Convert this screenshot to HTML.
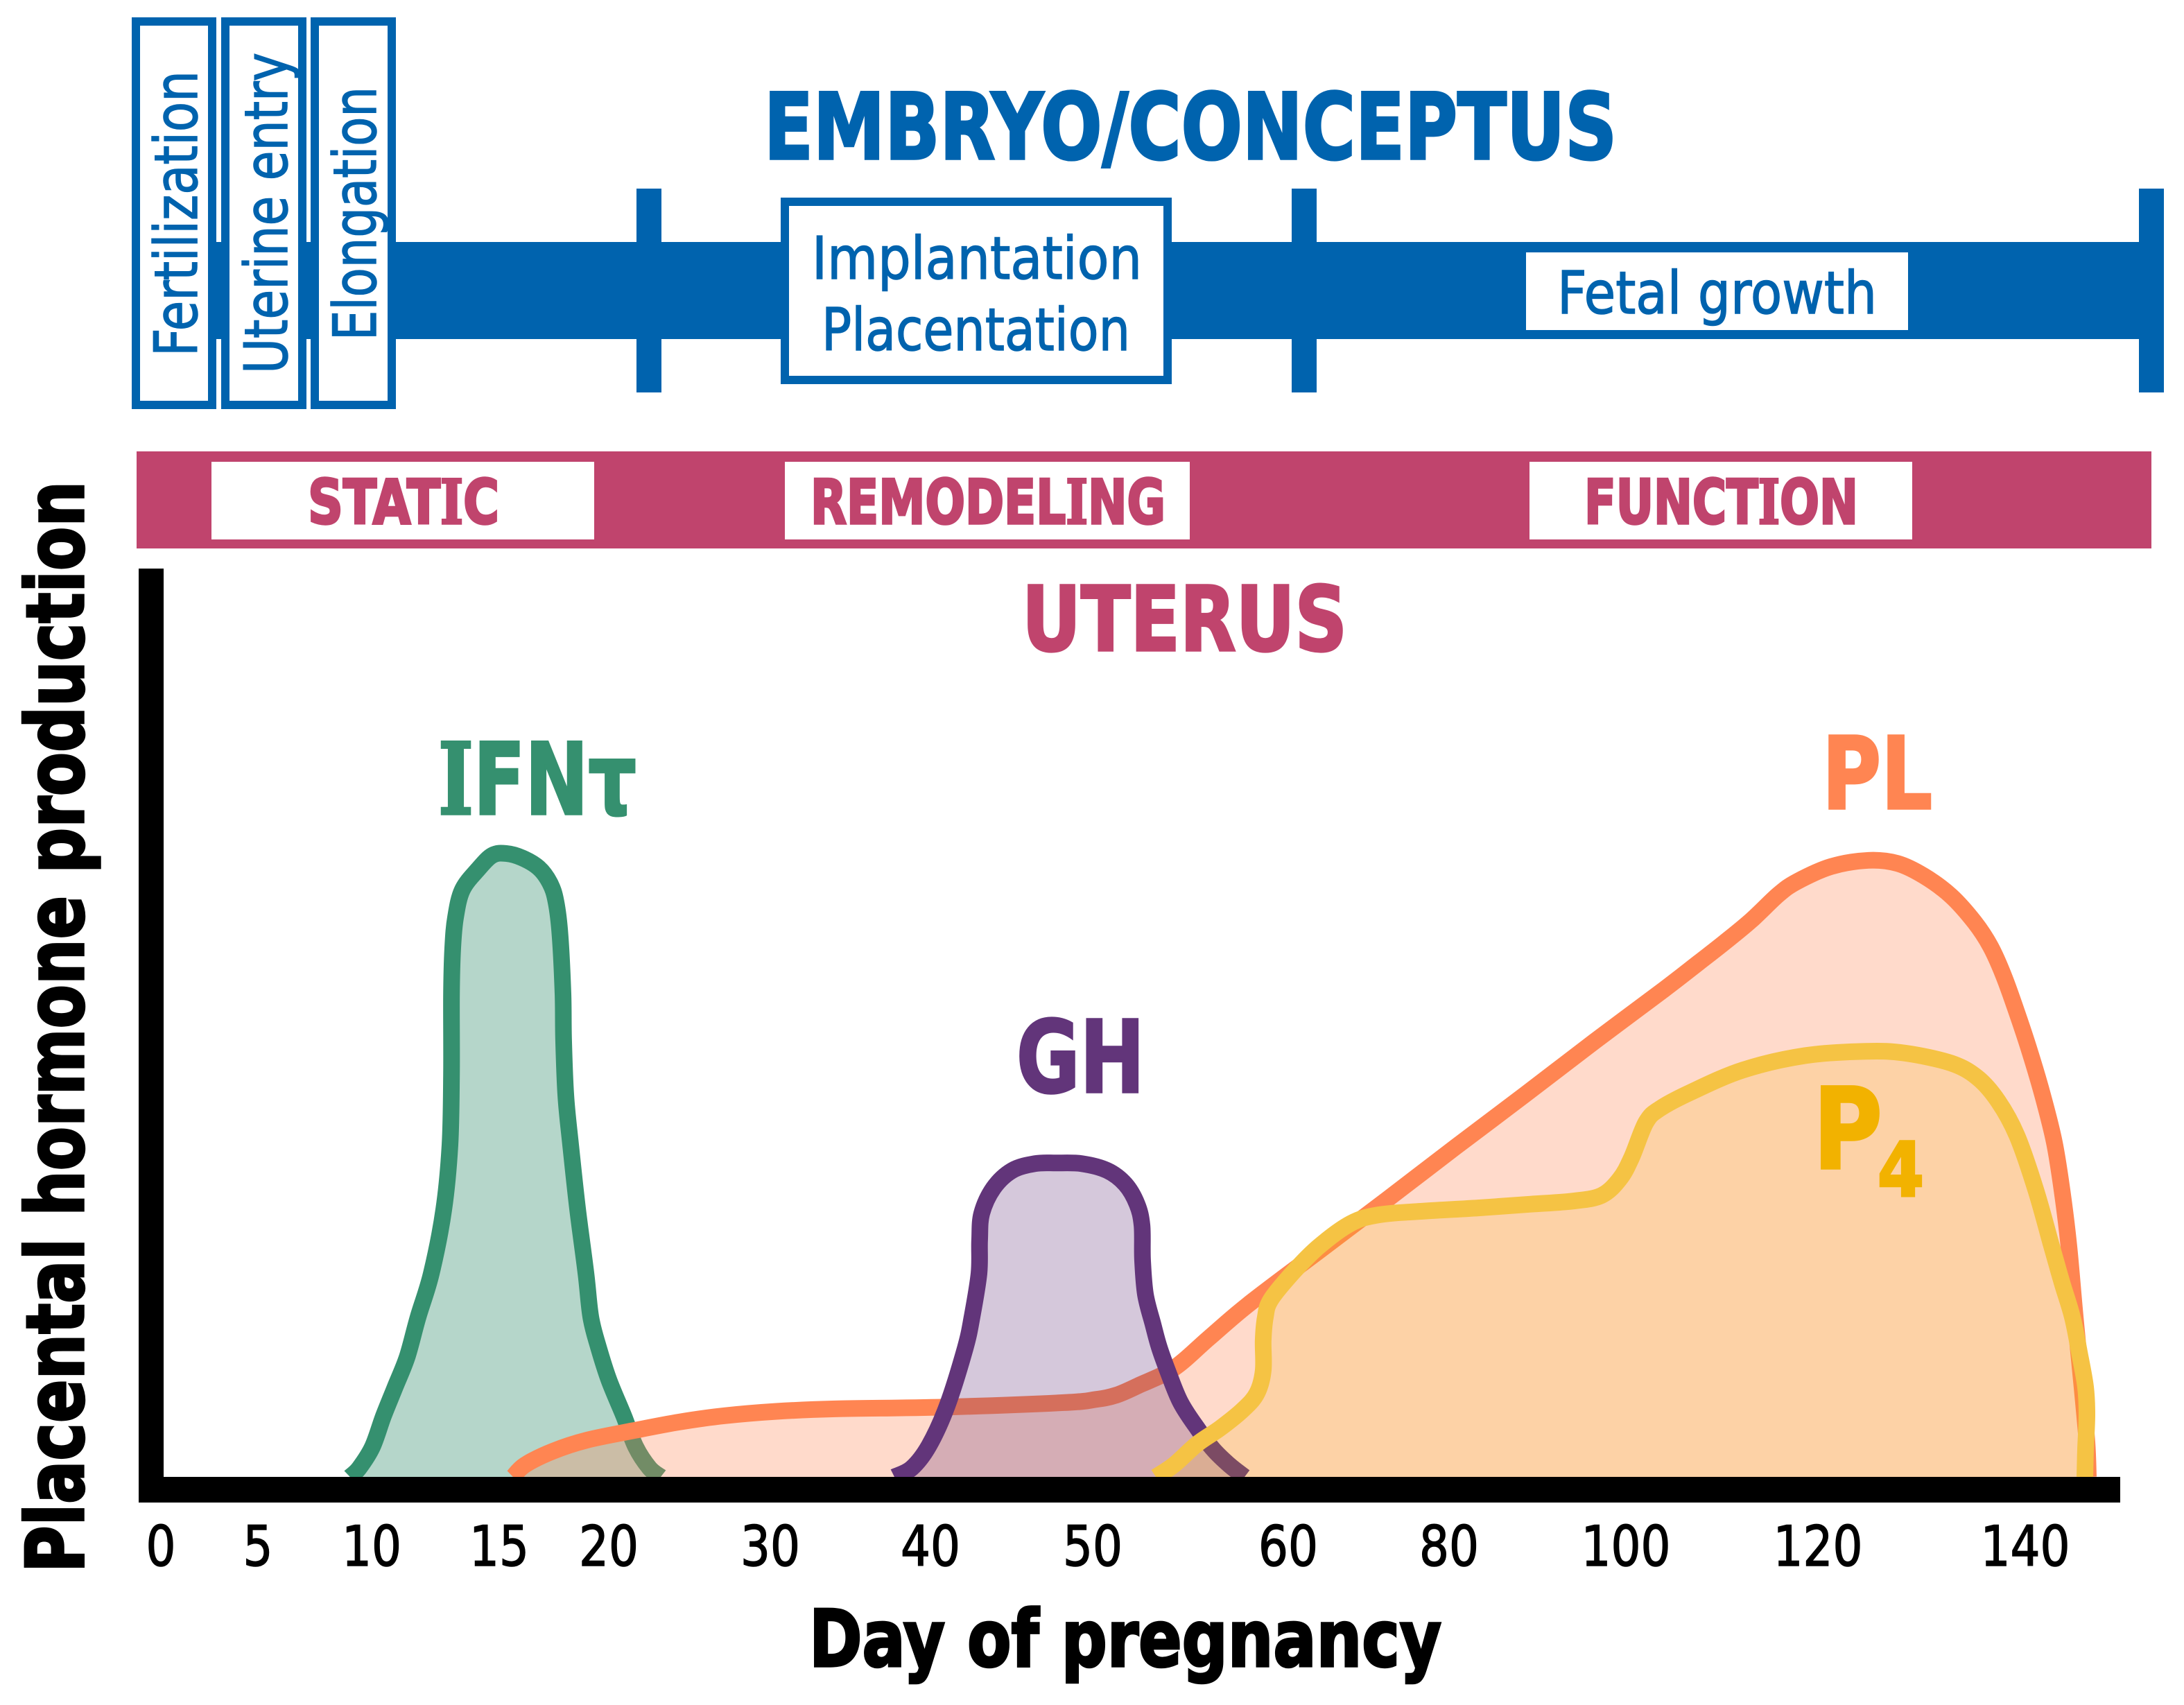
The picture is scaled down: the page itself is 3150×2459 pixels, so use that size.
<!DOCTYPE html>
<html lang="en">
<head>
<meta charset="utf-8">
<title>Placental hormone production during pregnancy</title>
<style>
html,body{margin:0;padding:0;background:#fff}
svg{display:block}
text{font-family:"DejaVu Sans","Liberation Sans",sans-serif;stroke-width:1.5}
text.b{font-weight:700;stroke-width:3.5}
tspan.s{font-family:"DejaVu Serif","Liberation Serif",serif}
</style>
</head>
<body>
<svg id="chart" xmlns="http://www.w3.org/2000/svg" width="3150" height="2459" viewBox="0 0 3150 2459">
<rect width="3150" height="2459" fill="#fff"/>

<g id="timeline">
<rect x="300" y="349" width="2821" height="140" fill="#0063ae"/>
<rect x="918" y="272" width="36" height="294" fill="#0063ae"/>
<rect x="1863" y="272" width="36" height="294" fill="#0063ae"/>
<rect x="3085" y="272" width="36" height="294" fill="#0063ae"/>
<rect x="196" y="31" width="110" height="553" fill="#fff" stroke="#0063ae" stroke-width="12"/>
<rect x="325" y="31" width="111" height="553" fill="#fff" stroke="#0063ae" stroke-width="12"/>
<rect x="454" y="31" width="111" height="553" fill="#fff" stroke="#0063ae" stroke-width="12"/>
<text transform="translate(284 514) rotate(-90)" font-size="86" fill="#0063ae" stroke="#0063ae" textLength="412" lengthAdjust="spacingAndGlyphs">Fertilization</text>
<text transform="translate(414 539) rotate(-90)" font-size="86" fill="#0063ae" stroke="#0063ae" textLength="463" lengthAdjust="spacingAndGlyphs">Uterine entry</text>
<text transform="translate(542 491) rotate(-90)" font-size="86" fill="#0063ae" stroke="#0063ae" textLength="366" lengthAdjust="spacingAndGlyphs">Elongation</text>
<rect x="1132" y="291" width="552" height="257" fill="#fff" stroke="#0063ae" stroke-width="12"/>
<text x="1171" y="402" font-size="85" fill="#0063ae" stroke="#0063ae" textLength="476" lengthAdjust="spacingAndGlyphs">Implantation</text>
<text x="1185" y="505" font-size="85" fill="#0063ae" stroke="#0063ae" textLength="445" lengthAdjust="spacingAndGlyphs">Placentation</text>
<rect x="2201" y="364" width="551" height="112" fill="#fff"/>
<text x="2246" y="452" font-size="85" fill="#0063ae" stroke="#0063ae" textLength="461" lengthAdjust="spacingAndGlyphs">Fetal growth</text>
<text class="b" x="1102" y="229" font-size="132" fill="#0063ae" stroke="#0063ae" textLength="1230" lengthAdjust="spacingAndGlyphs">EMBRYO/CONCEPTUS</text>
</g>

<g id="uterus-band">
<rect x="197" y="651" width="2906" height="140" fill="#c0446d"/>
<rect x="305" y="666" width="552" height="112" fill="#fff"/>
<rect x="1132" y="666" width="584" height="112" fill="#fff"/>
<rect x="2206" y="666" width="552" height="112" fill="#fff"/>
<text class="b" x="444" y="755" font-size="88" fill="#c0446d" stroke="#c0446d" textLength="276" lengthAdjust="spacingAndGlyphs">STAT<tspan class="s">I</tspan>C</text>
<text class="b" x="1169" y="755" font-size="88" fill="#c0446d" stroke="#c0446d" textLength="512" lengthAdjust="spacingAndGlyphs">REMODEL<tspan class="s">I</tspan>NG</text>
<text class="b" x="2285" y="755" font-size="88" fill="#c0446d" stroke="#c0446d" textLength="395" lengthAdjust="spacingAndGlyphs">FUNCT<tspan class="s">I</tspan>ON</text>
<text class="b" x="1474" y="938" font-size="129" fill="#c0446d" stroke="#c0446d" textLength="469" lengthAdjust="spacingAndGlyphs">UTERUS</text>
</g>

<g id="marks"></g>

<g id="axes">
<rect x="200" y="820" width="36" height="1347" fill="#000"/>
<rect x="200" y="2130" width="2858" height="37" fill="#000"/>
</g>
<g id="ticks"></g>

<text class="b" transform="translate(120 2268) rotate(-90)" font-size="115" fill="#000" stroke="#000" textLength="1574" lengthAdjust="spacingAndGlyphs">Placental hormone production</text>
<text class="b" x="1167" y="2403" font-size="113" fill="#000" stroke="#000" textLength="912" lengthAdjust="spacingAndGlyphs">Day of pregnancy</text>

<text class="b" x="632" y="1174" font-size="143" fill="#35906f" stroke="#35906f" textLength="286" lengthAdjust="spacingAndGlyphs"><tspan class="s">I</tspan>FNτ</text>
<text class="b" x="1466" y="1575" font-size="144" fill="#62357a" stroke="#62357a" textLength="185" lengthAdjust="spacingAndGlyphs">GH</text>
<text class="b" x="2628" y="1166" font-size="144" fill="#ff8552" stroke="#ff8552" textLength="159" lengthAdjust="spacingAndGlyphs">PL</text>
<text class="b" x="2615" y="1685" font-size="162" fill="#f2b200" stroke="#f2b200" textLength="100" lengthAdjust="spacingAndGlyphs">P</text>
<text class="b" x="2708" y="1725" font-size="108" fill="#f2b200" stroke="#f2b200" textLength="67" lengthAdjust="spacingAndGlyphs">4</text>
</svg>

<script>
const tickDays = [0, 5, 10, 15, 20, 30, 40, 50, 60, 80, 100, 120, 140];

const ifnDays = [9.05, 9.45, 10.03, 10.46, 10.92, 11.39, 11.82, 12.34, 12.83, 13.07, 13.13, 13.13, 13.18, 13.29, 13.56, 14.18, 14.73, 15.32, 16.04, 16.8, 17.31, 17.59, 17.78, 17.91, 17.94, 18.04, 18.26, 18.58, 18.96, 19.18, 19.53, 20, 20.94, 21.67, 22.53, 23.22];
const ifnLevels = [0, 1.4, 4.8, 9.7, 14.4, 19.2, 25.6, 32.6, 42.9, 53.2, 64.4, 77.4, 84.8, 89.7, 94.1, 97.4, 99.6, 99.9, 99.2, 97.6, 95.2, 92.2, 86.7, 77.4, 70, 61.1, 53.2, 42.9, 32.6, 25.6, 20.8, 15.6, 9.7, 4.8, 1.4, 0];

const ghDays = [37.75, 38.83, 39.91, 41.03, 42.14, 42.56, 42.99, 43.03, 43.16, 43.89, 45.04, 46.45, 47.74, 49.32, 50.74, 51.67, 52.27, 52.52, 52.55, 52.7, 53.09, 53.4, 53.87, 54.5, 55.35, 56.17, 56.99, 57.77];
const ghLevels = [0, 1.4, 5, 11.4, 20.6, 25.6, 32.6, 37.9, 42.2, 46.3, 49.1, 50.2, 50.3, 50.2, 49.1, 46.9, 43.7, 40.3, 34.8, 29.2, 24.4, 20.8, 16.7, 11.9, 7.8, 4.4, 1.9, 0];

const plDays = [15.63, 16.17, 17.44, 19.02, 21.5, 24.38, 27.17, 30.39, 34.07, 41.03, 48.21, 50.14, 51.21, 52.38, 54.15, 55.93, 57.95, 63.62, 72.24, 80.78, 88.63, 96.47, 103.97, 107.58, 110.32, 113.07, 115.88, 117.83, 121.27, 124.88, 127.69, 130.23, 132.84, 135.11, 136.65, 137.92, 139.2, 140.47, 141.74, 142.81, 143.55, 144.21, 144.82, 145.48, 145.95, 146.09];
const plLevels = [0, 1.9, 4.1, 5.9, 7.4, 8.8, 9.8, 10.5, 10.9, 11.2, 11.9, 12.4, 13.1, 14.7, 17.4, 22.2, 27.6, 36, 44.4, 52.9, 61.3, 69.8, 78.1, 82.4, 85.7, 89.2, 93.3, 95.4, 97.8, 98.8, 98.3, 96.3, 93.1, 88.9, 85, 80.3, 74.4, 68, 60.8, 53.6, 45.9, 37, 25.6, 14.4, 5.6, 0];

const p4Days = [53.23, 54.15, 55.35, 56.52, 57.7, 58.4, 58.72, 58.72, 58.83, 59.11, 60.69, 63.79, 67.76, 71.29, 76.98, 83.29, 89.25, 94.04, 97.25, 99.29, 100.58, 102.09, 103.54, 106.71, 112.2, 118.63, 124.62, 128.43, 132.84, 135.38, 137.39, 139.2, 141, 142.54, 143.55, 144.55, 145.22, 145.82, 145.95, 145.82, 145.75];
const p4Levels = [0, 1.9, 5.3, 7.8, 10.8, 13.4, 17, 21.9, 25.6, 28.4, 32.9, 36.9, 40.6, 42, 42.6, 43.1, 43.7, 44.2, 45.1, 47.7, 51.1, 56.8, 59, 61.6, 65.2, 67.5, 68.2, 67.9, 66.3, 64, 60.2, 54.7, 46.1, 37, 31.1, 25.6, 20, 14.4, 10, 4.4, 0];

// The printed axis is non-linear: each tick interval has its own pixel scale.
function xScale(day) {
  const knots = [[0,232],[5,372],[10,536],[15,720],[20,878],[30,1111],[40,1342],[50,1576],[60,1858],[80,2090],[100,2345],[120,2622],[140,2921]];
  for (let i = 1; i < knots.length; i++) {
    if (day <= knots[i][0]) {
      const a = knots[i - 1], b = knots[i];
      return a[1] + (day - a[0]) * (b[1] - a[1]) / (b[0] - a[0]);
    }
  }
  return 2921 + (day - 140) * 14.95;
}
function yScale(level) {
  return 2130 - 9 * level;
}

function smoothPath(days, levels) {
  const p = days.map((d, i) => [xScale(d), yScale(levels[i])]);
  let s = 'M' + p[0][0].toFixed(1) + ' ' + p[0][1].toFixed(1);
  for (let i = 0; i < p.length - 1; i++) {
    const p0 = p[Math.max(i - 1, 0)], p1 = p[i], p2 = p[i + 1], p3 = p[Math.min(i + 2, p.length - 1)];
    const c1x = p1[0] + (p2[0] - p0[0]) / 6, c1y = p1[1] + (p2[1] - p0[1]) / 6;
    const c2x = p2[0] - (p3[0] - p1[0]) / 6, c2y = p2[1] - (p3[1] - p1[1]) / 6;
    s += 'C' + c1x.toFixed(1) + ' ' + c1y.toFixed(1) + ' ' + c2x.toFixed(1) + ' ' + c2y.toFixed(1) + ' ' + p2[0].toFixed(1) + ' ' + p2[1].toFixed(1);
  }
  return s;
}

const NS = 'http://www.w3.org/2000/svg';
const marks = document.getElementById('marks');

function drawSeries(name, days, levels, fillColor, fillOpacity, lineColor) {
  const d = smoothPath(days, levels);
  const area = document.createElementNS(NS, 'path');
  
  
  area.setAttribute('d', d + 'Z');
  area.setAttribute('fill', fillColor);
  area.setAttribute('fill-opacity', fillOpacity);
  marks.appendChild(area);
  const line = document.createElementNS(NS, 'path');
  
  
  line.setAttribute('d', d);
  line.setAttribute('fill', 'none');
  line.setAttribute('stroke', lineColor);
  line.setAttribute('stroke-width', '24');
  line.setAttribute('stroke-linejoin', 'round');
  marks.appendChild(line);
}

drawSeries('ifn-tau', ifnDays, ifnLevels, '#35906f', 0.37, '#35906f');
drawSeries('pl', plDays, plLevels, '#ff8552', 0.3, '#ff8552');
drawSeries('gh', ghDays, ghLevels, '#62357a', 0.27, '#62357a');
drawSeries('p4', p4Days, p4Levels, '#f4b400', 0.18, '#f5c344');

const ticks = document.getElementById('ticks');
tickDays.forEach(function (day) {
  const label = String(day);
  const t = document.createElementNS(NS, 'text');
  
  
  t.setAttribute('x', (xScale(day) - label.length * 21.5).toFixed(1));
  t.setAttribute('y', '2258');
  t.setAttribute('font-size', '80');
  t.setAttribute('fill', '#000');
  t.setAttribute('stroke', '#000');
  t.setAttribute('textLength', label.length * 43);
  t.setAttribute('lengthAdjust', 'spacingAndGlyphs');
  t.textContent = label;
  ticks.appendChild(t);
});
</script>
</body>
</html>
